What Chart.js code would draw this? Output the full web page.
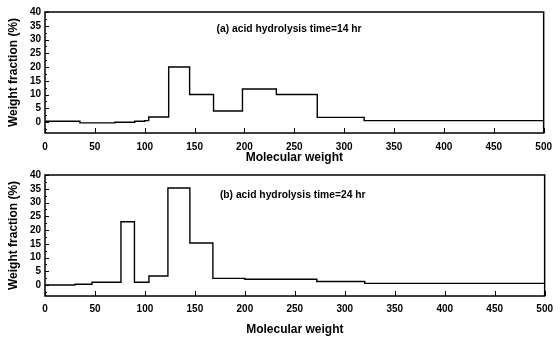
<!DOCTYPE html>
<html>
<head>
<meta charset="utf-8">
<script src="https://cdn.jsdelivr.net/npm/chart.js@4/dist/chart.umd.min.js"></script>
<style>
  html, body { margin: 0; padding: 0; background: #fff; }
  #wrapA { position: absolute; left: 0; top: 0; width: 560px; height: 165px; }
  #wrapB { position: absolute; left: 0; top: 165px; width: 560px; height: 173px; }
</style>
</head>
<body>
<div id="wrapA"><canvas id="chartA"></canvas></div>
<div id="wrapB"><canvas id="chartB"></canvas></div>
<script>
// ---- data (step start positions and bin values) ----
const molWeightA = [0, 35, 70, 90, 100, 104, 124, 145, 169, 198, 232, 273, 320, 500];
const fractionA  = [0.3, -0.3, -0.1, 0.3, 0.5, 1.8, 20, 10, 4, 12, 10, 1.7, 0.5, 0.5];
const molWeightB = [0, 30, 47, 76, 89.5, 104, 123, 145, 168, 200, 272, 320, 500];
const fractionB  = [0, 0.3, 1, 23, 1, 3.3, 35.3, 15.3, 2.4, 2.1, 1.3, 0.6, 0.6];
const xTicks = [0, 50, 100, 150, 200, 250, 300, 350, 400, 450, 500];
const yTicks = [0, 5, 10, 15, 20, 25, 30, 35, 40];
const labelA = '(a) acid hydrolysis time=14 hr';
const labelB = '(b) acid hydrolysis time=24 hr';
const xTitle = 'Molecular weight';
const yTitle = 'Weight fraction (%)';

const FONT = "'Liberation Sans', Arial, sans-serif";

const framePlugin = {
  id: 'frame',
  afterDatasetsDraw(chart, args, opts) {
    const {ctx, chartArea: a, scales: {x, y}} = chart;
    ctx.save();
    ctx.strokeStyle = '#000';
    ctx.lineWidth = 1.5;
    ctx.strokeRect(a.left, a.top, a.right - a.left, a.bottom - a.top);
    ctx.lineWidth = 1;
    ctx.beginPath();
    xTicks.forEach(v => {
      const px = Math.round(x.getPixelForValue(v)) + 0.5;
      ctx.moveTo(px, a.bottom);
      ctx.lineTo(px, a.bottom - 5);
    });
    for (let v = -2.5; v <= 40; v += 2.5) {
      const py = Math.round(y.getPixelForValue(v)) + 0.5;
      const len = (v % 5 === 0) ? 4 : 2;
      ctx.moveTo(a.left, py);
      ctx.lineTo(a.left + len, py);
    }
    ctx.stroke();
    // annotation
    ctx.fillStyle = '#000';
    ctx.font = 'bold 10.3px ' + FONT;
    ctx.textBaseline = 'middle';
    ctx.textAlign = 'left';
    ctx.fillText(opts.text, x.getPixelForValue(opts.tx), y.getPixelForValue(opts.ty));
    ctx.restore();
  }
};

function makeChart(id, xs, ys, cfg) {
  const pts = xs.map((v, i) => ({x: v, y: ys[i]}));
  return new Chart(document.getElementById(id), {
    type: 'line',
    data: { datasets: [{ data: pts, stepped: true, borderColor: '#000', borderWidth: 1.4, pointRadius: 0, fill: false }] },
    plugins: [framePlugin],
    options: {
      responsive: true,
      maintainAspectRatio: false,
      animation: false,
      events: [],
      layout: { padding: { top: cfg.top, right: 11, left: 0, bottom: 0 } },
      plugins: {
        legend: { display: false },
        tooltip: { enabled: false },
        frame: { text: cfg.text, tx: cfg.tx, ty: cfg.ty }
      },
      scales: {
        x: {
          type: 'linear', min: 0, max: 500,
          afterBuildTicks: s => { s.ticks = xTicks.map(v => ({value: v})); },
          afterFit: s => { s.height = cfg.xh; },
          grid: { display: false, drawTicks: false },
          border: { display: false },
          ticks: { color: '#000', padding: cfg.xpad, maxRotation: 0, autoSkip: false, font: { family: FONT, size: 10, weight: 'bold' } },
          title: { display: true, text: xTitle, color: '#000', padding: { top: 0, bottom: cfg.tpad }, font: { family: FONT, size: 12, weight: 'bold' } }
        },
        y: {
          type: 'linear', min: -4, max: 40,
          afterBuildTicks: s => { s.ticks = yTicks.map(v => ({value: v})); },
          afterFit: s => { s.width = 45; },
          grid: { display: false, drawTicks: false },
          border: { display: false },
          ticks: { color: '#000', padding: 4, autoSkip: false, font: { family: FONT, size: 10, weight: 'bold' } },
          title: { display: true, text: yTitle, color: '#000', padding: { top: 6, bottom: 0 }, font: { family: FONT, size: 12, weight: 'bold' } }
        }
      }
    }
  });
}

makeChart('chartA', molWeightA, fractionA, { top: 12, xh: 32, xpad: 8, tpad: 0, text: labelA, tx: 172, ty: 33.8 });
makeChart('chartB', molWeightB, fractionB, { top: 10, xh: 42, xpad: 7, tpad: 1, text: labelB, tx: 175, ty: 32.6 });
</script>
</body>
</html>
